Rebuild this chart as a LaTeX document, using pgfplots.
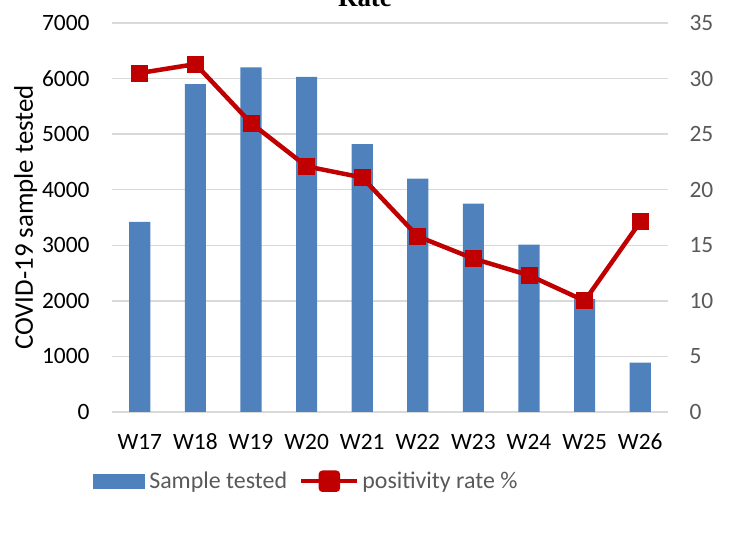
\documentclass[border=0pt]{standalone}
\usepackage{pgfplots}
\pgfplotsset{compat=1.18}
\usepackage{fontspec}
\setmainfont{Carlito}
\newfontfamily\titlefont{Liberation Serif}
\definecolor{barblue}{HTML}{4F81BD}
\definecolor{linered}{HTML}{C00000}
\definecolor{gridgray}{HTML}{D9D9D9}
\definecolor{txtgray}{HTML}{595959}
\begin{document}
\begin{tikzpicture}[x=1bp,y=1bp]
\begin{axis}[
  at={(112bp,128bp)}, anchor=south west,
  scale only axis, width=556bp, height=389bp,
  xmin=-0.5, xmax=9.5, ymin=0, ymax=7000,
  ytick={0,1000,...,7000},
  xtick={0,...,9},
  xticklabels={W17,W18,W19,W20,W21,W22,W23,W24,W25,W26},
  axis line style={draw=none},
  ymajorgrids, grid style={gridgray, line width=1.3bp},
  major tick length=0pt,
  tick label style={font=\fontsize{23.5}{27}\selectfont, black},
  /pgf/number format/assume math mode=true,
  scaled y ticks=false,
  yticklabel style={/pgf/number format/1000 sep={}, xshift=-19bp},
  xticklabel style={anchor=base, yshift=-38bp},
  ylabel={COVID-19 sample tested},
  ylabel style={font=\fontsize{27}{30}\selectfont, black, yshift=-2bp},
  ybar, bar width=0.38,
]
\addplot[fill=barblue, draw=none] coordinates {
(0,3420) (1,5900) (2,6200) (3,6030) (4,4820) (5,4200) (6,3750) (7,3010) (8,2030) (9,890)};
\end{axis}
\begin{axis}[
  at={(112bp,128bp)}, anchor=south west,
  scale only axis, width=556bp, height=389bp,
  xmin=-0.5, xmax=9.5, ymin=0, ymax=35,
  ytick={0,5,...,35},
  axis x line=none,
  axis y line*=right,
  axis line style={draw=none},
  major tick length=0pt,
  tick label style={font=\fontsize{23.5}{27}\selectfont, txtgray},
  /pgf/number format/assume math mode=true,
  yticklabel style={xshift=18bp},
  legend columns=2,
  legend style={draw=none, fill=none, at={(-0.034,-0.178)}, anchor=west,
    font=\fontsize{24}{27}\selectfont\color{txtgray}, inner sep=0pt,
    /tikz/every even column/.append style={column sep=10bp}},
  legend cell align=left,
]
\addlegendimage{legend image code/.code={\fill[barblue, draw=none] (0bp,-7.5bp) rectangle (52bp,7.5bp);
  \path[draw=none, fill=none] (0bp,0bp) -- (54bp,0bp);}}
\addlegendentry{Sample tested}
\addplot[linered, line width=4.5bp, mark=square*,
  mark options={solid, line width=1bp, rounded corners=2bp}, mark size=8bp,
  legend image code/.code={\draw[linered, line width=4.5bp] (0bp,0bp) -- (56bp,0bp);
    \fill[linered, rounded corners=2bp] (19.5bp,-8.5bp) rectangle (36.5bp,8.5bp);
    \path[draw=none, fill=none] (0bp,0bp) -- (59bp,0bp);}]
coordinates {
(0,30.5) (1,31.3) (2,26.0) (3,22.1) (4,21.1) (5,15.8) (6,13.8) (7,12.3) (8,10.0) (9,17.1)};
\addlegendentry{positivity rate \%}
\end{axis}
\node[font=\titlefont\bfseries\fontsize{27}{30}\selectfont, anchor=base, inner sep=0pt] at (365bp,533bp) {Rate};
\pgfresetboundingbox
\useasboundingbox (0,0) rectangle (751bp,540bp);
\end{tikzpicture}
\end{document}
